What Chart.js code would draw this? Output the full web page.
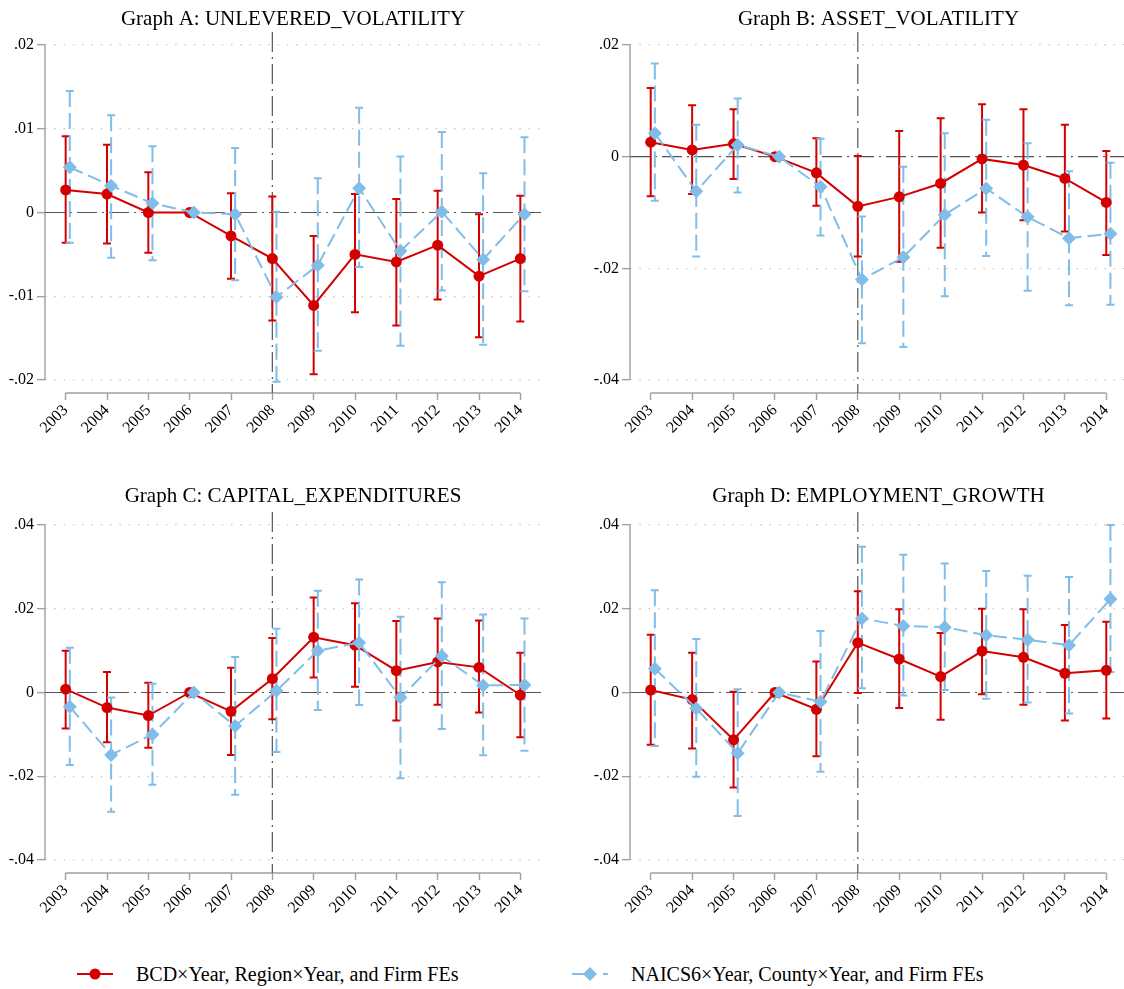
<!DOCTYPE html>
<html>
<head>
<meta charset="utf-8">
<script src="https://cdn.jsdelivr.net/npm/chart.js@4.4.1/dist/chart.umd.min.js"></script>
<style>
  html, body { margin: 0; padding: 0; background: #fff; }
  body { width: 1124px; height: 989px; overflow: hidden; position: relative; font-family: "Liberation Serif", "Times New Roman", serif; }
  .panel { position: absolute; }
  .legend { position: absolute; top: 961px; left: 0; width: 1124px; height: 26px; font-size: 20px; color: #000; }
  .legend .item { position: absolute; top: 0; height: 26px; display: flex; align-items: center; }
  .legend svg { display: block; }
</style>
</head>
<body>
<div class="panel" style="left:0;top:0"><canvas id="chartA" width="586" height="460"></canvas></div>
<div class="panel" style="left:585px;top:0"><canvas id="chartB" width="587" height="460"></canvas></div>
<div class="panel" style="left:0;top:480px"><canvas id="chartC" width="586" height="460"></canvas></div>
<div class="panel" style="left:585px;top:480px"><canvas id="chartD" width="587" height="460"></canvas></div>

<div class="legend">
  <div class="item" style="left:76px">
    <svg width="40" height="26"><line x1="1" y1="13" x2="37" y2="13" stroke="#d40000" stroke-width="2.2"/><circle cx="19" cy="13" r="5.5" fill="#d40000"/></svg>
  </div>
  <div class="item" style="left:136px">BCD×Year, Region×Year, and Firm FEs</div>
  <div class="item" style="left:571px">
    <svg width="40" height="26"><line x1="1" y1="13" x2="37" y2="13" stroke="#80bde8" stroke-width="2.2" stroke-dasharray="18 13 6"/><polygon points="19,6 26,13 19,20 12,13" fill="#80bde8"/></svg>
  </div>
  <div class="item" style="left:631px">NAICS6×Year, County×Year, and Firm FEs</div>
</div>

<script>
const years = [2003, 2004, 2005, 2006, 2007, 2008, 2009, 2010, 2011, 2012, 2013, 2014];
const eventYear = 2008;

// tick values and labels
const ticksA = [-0.02, -0.01, 0, 0.01, 0.02];
const tickLabelsA = ["-.02", "-.01", "0", ".01", ".02"];
const ticksB = [-0.04, -0.02, 0, 0.02];
const tickLabelsB = ["-.04", "-.02", "0", ".02"];
const ticksCD = [-0.04, -0.02, 0, 0.02, 0.04];
const tickLabelsCD = ["-.04", "-.02", "0", ".02", ".04"];

// Graph A: UNLEVERED_VOLATILITY
const aRedCoef = [0.0027, 0.0022, 0.0000, 0, -0.0028, -0.0055, -0.0111, -0.0050, -0.0059, -0.0039, -0.0076, -0.0055];
const aRedLo   = [-0.0036, -0.0037, -0.0048, null, -0.0079, -0.0129, -0.0193, -0.0119, -0.0135, -0.0104, -0.0149, -0.0130];
const aRedHi   = [0.0091, 0.0081, 0.0048, null, 0.0023, 0.0019, -0.0028, 0.0022, 0.0016, 0.0026, -0.0002, 0.0020];
const aBlueCoef = [0.0054, 0.0032, 0.0011, 0, -0.0002, -0.0101, -0.0063, 0.0029, -0.0046, 0.0001, -0.0056, -0.0002];
const aBlueLo   = [-0.0036, -0.0054, -0.0057, null, -0.0081, -0.0202, -0.0165, -0.0065, -0.0159, -0.0093, -0.0158, -0.0094];
const aBlueHi   = [0.0145, 0.0116, 0.0079, null, 0.0077, 0.0001, 0.0041, 0.0125, 0.0067, 0.0096, 0.0047, 0.0090];

// Graph B: ASSET_VOLATILITY
const bRedCoef = [0.0026, 0.0012, 0.0023, 0, -0.0029, -0.0089, -0.0072, -0.0048, -0.0004, -0.0015, -0.0039, -0.0082];
const bRedLo   = [-0.0071, -0.0067, -0.0040, null, -0.0088, -0.0179, -0.0188, -0.0163, -0.0100, -0.0114, -0.0134, -0.0176];
const bRedHi   = [0.0123, 0.0092, 0.0085, null, 0.0033, 0.0001, 0.0046, 0.0069, 0.0094, 0.0085, 0.0057, 0.0010];
const bBlueCoef = [0.0042, -0.0062, 0.0021, 0, -0.0054, -0.0220, -0.0180, -0.0104, -0.0057, -0.0108, -0.0146, -0.0138];
const bBlueLo   = [-0.0079, -0.0179, -0.0064, null, -0.0141, -0.0334, -0.0341, -0.0250, -0.0178, -0.0240, -0.0266, -0.0265];
const bBlueHi   = [0.0167, 0.0057, 0.0104, null, 0.0032, -0.0107, -0.0018, 0.0042, 0.0066, 0.0024, -0.0026, -0.0011];

// Graph C: CAPITAL_EXPENDITURES
const cRedCoef = [0.0008, -0.0036, -0.0055, 0, -0.0045, 0.0033, 0.0132, 0.0113, 0.0052, 0.0073, 0.0060, -0.0006];
const cRedLo   = [-0.0086, -0.0119, -0.0132, null, -0.0149, -0.0064, 0.0036, 0.0014, -0.0067, -0.0029, -0.0048, -0.0107];
const cRedHi   = [0.0100, 0.0049, 0.0023, null, 0.0059, 0.0130, 0.0227, 0.0213, 0.0171, 0.0177, 0.0172, 0.0095];
const cBlueCoef = [-0.0034, -0.0149, -0.0100, 0, -0.0080, 0.0004, 0.0100, 0.0119, -0.0012, 0.0087, 0.0017, 0.0018];
const cBlueLo   = [-0.0173, -0.0285, -0.0220, null, -0.0244, -0.0142, -0.0042, -0.0030, -0.0205, -0.0087, -0.0150, -0.0139];
const cBlueHi   = [0.0107, -0.0012, 0.0021, null, 0.0085, 0.0152, 0.0243, 0.0270, 0.0181, 0.0263, 0.0186, 0.0177];

// Graph D: EMPLOYMENT_GROWTH
const dRedCoef = [0.0006, -0.0017, -0.0113, 0, -0.0040, 0.0119, 0.0080, 0.0038, 0.0099, 0.0084, 0.0046, 0.0053];
const dRedLo   = [-0.0125, -0.0134, -0.0227, null, -0.0152, -0.0001, -0.0037, -0.0065, -0.0004, -0.0029, -0.0067, -0.0062];
const dRedHi   = [0.0138, 0.0095, 0.0002, null, 0.0074, 0.0242, 0.0199, 0.0142, 0.0200, 0.0199, 0.0161, 0.0169];
const dBlueCoef = [0.0057, -0.0038, -0.0145, 0, -0.0022, 0.0177, 0.0159, 0.0156, 0.0137, 0.0126, 0.0113, 0.0223];
const dBlueLo   = [-0.0128, -0.0201, -0.0295, null, -0.0189, 0.0010, -0.0007, 0.0006, -0.0015, -0.0024, -0.0050, 0.0049];
const dBlueHi   = [0.0244, 0.0128, 0.0008, null, 0.0147, 0.0348, 0.0329, 0.0308, 0.0290, 0.0279, 0.0276, 0.0400];

const RED = "#d40000";
const BLUE = "#80bde8";
const AXIS = "#a0a0a0";
const REFLINE = "#555555";
const blueShift = 0.1; // second series is drawn slightly to the right
const serif = '"Liberation Serif", "Times New Roman", serif';

// reference lines, axis lines, confidence intervals and title
const stataPlugin = {
  id: "stata",
  beforeDatasetsDraw(chart, args, opts) {
    const { ctx, chartArea } = chart;
    const xs = chart.scales.x, ys = chart.scales.y;
    ctx.save();

    // axis lines only span the tick range
    ctx.strokeStyle = AXIS;
    ctx.lineWidth = 1.4;
    ctx.setLineDash([]);
    ctx.beginPath();
    ctx.moveTo(chartArea.left, ys.getPixelForValue(opts.ticks[0]));
    ctx.lineTo(chartArea.left, ys.getPixelForValue(opts.ticks[opts.ticks.length - 1]));
    ctx.moveTo(xs.getPixelForValue(years[0]), chartArea.bottom);
    ctx.lineTo(xs.getPixelForValue(years[years.length - 1]), chartArea.bottom);
    ctx.stroke();

    // zero line and event line
    ctx.strokeStyle = REFLINE;
    ctx.lineWidth = 1.2;
    ctx.setLineDash([20, 5, 2, 5]);
    ctx.beginPath();
    const y0 = ys.getPixelForValue(0);
    ctx.moveTo(chartArea.left, y0);
    ctx.lineTo(chartArea.right, y0);
    const xe = xs.getPixelForValue(eventYear);
    ctx.moveTo(xe, chartArea.top);
    ctx.lineTo(xe, chartArea.bottom);
    ctx.stroke();

    // confidence intervals
    chart.data.datasets.forEach((ds, di) => {
      const meta = chart.getDatasetMeta(di);
      ctx.strokeStyle = ds.borderColor;
      ctx.lineWidth = 2;
      ds.ciLo.forEach((lo, i) => {
        const hi = ds.ciHi[i];
        if (lo === null || hi === null) return;
        const x = meta.data[i].x;
        const yl = ys.getPixelForValue(lo), yh = ys.getPixelForValue(hi);
        ctx.setLineDash(ds.ciDash);
        ctx.beginPath();
        ctx.moveTo(x, yh);
        ctx.lineTo(x, yl);
        ctx.stroke();
        ctx.setLineDash([]);
        ctx.beginPath();
        ctx.moveTo(x - 4, yh);
        ctx.lineTo(x + 4, yh);
        ctx.moveTo(x - 4, yl);
        ctx.lineTo(x + 4, yl);
        ctx.stroke();
      });
    });
    ctx.restore();
  },
  afterDraw(chart, args, opts) {
    const { ctx, chartArea } = chart;
    ctx.save();
    ctx.fillStyle = "#000";
    ctx.font = "21px " + serif;
    ctx.textAlign = "center";
    ctx.textBaseline = "middle";
    ctx.fillText(opts.title, (chartArea.left + chartArea.right) / 2, opts.titleY);
    ctx.restore();
  }
};

function makePanel(id, title, titleY, ticks, tickLabels, red, blue) {
  const span = ticks[ticks.length - 1] - ticks[0];
  const pad = span * 13 / 335;
  new Chart(document.getElementById(id), {
    type: "line",
    data: {
      datasets: [
        {
          label: "BCD×Year, Region×Year, and Firm FEs",
          data: years.map((yr, i) => ({ x: yr, y: red.coef[i] })),
          ciLo: red.lo, ciHi: red.hi, ciDash: [],
          borderColor: RED, backgroundColor: RED,
          borderWidth: 2, tension: 0,
          pointStyle: "circle", pointRadius: 5.5, pointBorderWidth: 0,
          pointBackgroundColor: RED,
          order: 2
        },
        {
          label: "NAICS6×Year, County×Year, and Firm FEs",
          data: years.map((yr, i) => ({ x: yr + blueShift, y: blue.coef[i] })),
          ciLo: blue.lo, ciHi: blue.hi, ciDash: [16, 6],
          borderColor: BLUE, backgroundColor: BLUE,
          borderWidth: 2, borderDash: [14, 6], tension: 0,
          pointStyle: "rectRot", pointRadius: 7, pointBorderWidth: 0,
          pointBackgroundColor: BLUE,
          order: 1
        }
      ]
    },
    options: {
      responsive: false,
      animation: false,
      layout: { padding: { top: 32, right: 45, left: 0, bottom: 0 } },
      plugins: {
        legend: { display: false },
        tooltip: { enabled: false },
        title: { display: false },
        stata: { title: title, titleY: titleY, ticks: ticks }
      },
      scales: {
        x: {
          type: "linear",
          min: years[0] - 0.5,
          max: years[years.length - 1] + 0.5,
          afterBuildTicks: s => { s.ticks = years.map(v => ({ value: v })); },
          afterFit: s => { s.height = 67; },
          ticks: {
            autoSkip: false, minRotation: 45, maxRotation: 45, padding: 1,
            color: "#000", font: { family: serif, size: 16 },
            callback: v => String(v)
          },
          grid: { drawOnChartArea: false, drawTicks: true, tickLength: 7, tickColor: AXIS, tickWidth: 1.4 },
          border: { display: false }
        },
        y: {
          min: ticks[0] - pad,
          max: ticks[ticks.length - 1] + pad,
          afterBuildTicks: s => { s.ticks = ticks.map(v => ({ value: v })); },
          afterFit: s => { s.width = 45; },
          ticks: {
            padding: 3, color: "#000", font: { family: serif, size: 16 },
            callback: (v, i) => tickLabels[i]
          },
          grid: {
            color: c => (c.tick && c.tick.value === 0 ? "rgba(0,0,0,0)" : "#c6c6c6"),
            lineWidth: 1.3,
            tickLength: 8, tickColor: AXIS, tickWidth: 1.4
          },
          border: { display: false, dash: [1.5, 7.8] }
        }
      }
    },
    plugins: [stataPlugin]
  });
}

makePanel("chartA", "Graph A: UNLEVERED_VOLATILITY", 19, ticksA, tickLabelsA,
  { coef: aRedCoef, lo: aRedLo, hi: aRedHi }, { coef: aBlueCoef, lo: aBlueLo, hi: aBlueHi });
makePanel("chartB", "Graph B: ASSET_VOLATILITY", 19, ticksB, tickLabelsB,
  { coef: bRedCoef, lo: bRedLo, hi: bRedHi }, { coef: bBlueCoef, lo: bBlueLo, hi: bBlueHi });
makePanel("chartC", "Graph C: CAPITAL_EXPENDITURES", 16, ticksCD, tickLabelsCD,
  { coef: cRedCoef, lo: cRedLo, hi: cRedHi }, { coef: cBlueCoef, lo: cBlueLo, hi: cBlueHi });
makePanel("chartD", "Graph D: EMPLOYMENT_GROWTH", 16, ticksCD, tickLabelsCD,
  { coef: dRedCoef, lo: dRedLo, hi: dRedHi }, { coef: dBlueCoef, lo: dBlueLo, hi: dBlueHi });
</script>
</body>
</html>
